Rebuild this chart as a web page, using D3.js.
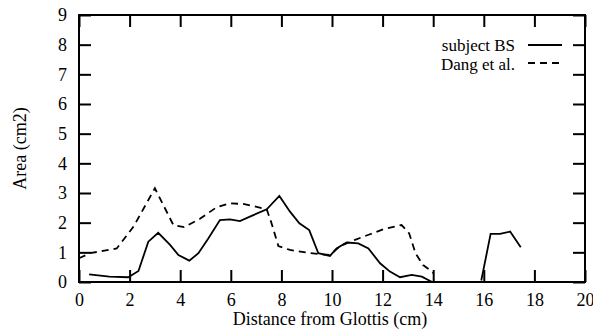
<!DOCTYPE html>
<html><head><meta charset="utf-8">
<script src="https://cdn.jsdelivr.net/npm/d3@7"></script>
<style>body{margin:0;background:#fff}svg{display:block}</style>
</head><body><svg id="c" width="593" height="330"></svg>
<script>
// Data
const bsDist = [0.4,1.2,1.95,2.35,2.74,3.13,3.6,3.93,4.36,4.72,5.11,5.57,5.97,6.36,6.8,7.42,7.92,8.34,8.71,9.1,9.46,9.92,10.18,10.58,11.04,11.44,11.9,12.29,12.69,13.15,13.55,13.94,null,15.9,16.27,16.64,17.04,17.46];
const bsArea = [0.26,0.18,0.16,0.37,1.36,1.66,1.25,0.91,0.72,0.97,1.47,2.09,2.11,2.05,2.22,2.45,2.90,2.37,1.98,1.75,0.97,0.88,1.13,1.33,1.30,1.13,0.63,0.35,0.16,0.24,0.18,0.01,null,0.05,1.62,1.62,1.70,1.17];
const dangDist = [0,0.43,1.49,2.15,3.0,3.73,4.15,4.78,5.44,5.97,6.49,6.95,7.42,7.61,7.88,8.34,9.0,9.53,9.92,10.32,10.91,11.5,12.03,12.75,13.05,13.3,13.6,13.8,14.0];
const dangArea = [0.8,0.97,1.13,1.86,3.16,1.92,1.85,2.13,2.52,2.65,2.63,2.55,2.45,1.98,1.21,1.08,0.99,0.94,0.91,1.21,1.42,1.61,1.78,1.92,1.64,0.97,0.57,0.45,0.3];
const xTicks = [0,2,4,6,8,10,12,14,16,18,20];
const yTicks = [0,1,2,3,4,5,6,7,8,9];
const seriesNames = ["subject BS","Dang et al."];

const FONT = "'Liberation Serif', 'Times New Roman', Times, 'DejaVu Serif', serif";
const svg = d3.select("#c").style("font-family", FONT);
const L=79,R=585,T=15,B=282;
const x = d3.scaleLinear().domain([0,20]).range([L,R]);
const y = d3.scaleLinear().domain([0,9]).range([B,T]);
const fs = 18, tl = 12, lw = 1.8;

function styleAxis(g){
  g.attr("font-family", null).style("font-family", FONT);
  g.select(".domain").remove();
  g.selectAll(".tick line").attr("stroke","#000").attr("stroke-width",2);
  g.selectAll(".tick text").attr("font-size",fs).attr("fill","#000").style("font-family", FONT);
}
svg.append("g").attr("transform",`translate(0,${B})`)
  .call(d3.axisBottom(x).tickValues(xTicks).tickSizeInner(-tl).tickSizeOuter(0).tickPadding(11))
  .call(styleAxis);
svg.append("g").attr("transform",`translate(0,${T})`)
  .call(d3.axisTop(x).tickValues(xTicks).tickSizeInner(-tl).tickSizeOuter(0).tickFormat(""))
  .call(styleAxis);
svg.append("g").attr("transform",`translate(${L},0)`)
  .call(d3.axisLeft(y).tickValues(yTicks).tickSizeInner(-tl).tickSizeOuter(0).tickPadding(12))
  .call(styleAxis);
svg.append("g").attr("transform",`translate(${R},0)`)
  .call(d3.axisRight(y).tickValues(yTicks).tickSizeInner(-tl).tickSizeOuter(0).tickFormat(""))
  .call(styleAxis);

svg.append("rect").attr("x",L).attr("y",T).attr("width",R-L).attr("height",B-T)
  .attr("fill","none").attr("stroke","#000").attr("stroke-width",2);

const line = d3.line().defined(d=>d[0]!=null && d[1]!=null).x(d=>x(d[0])).y(d=>y(d[1]));
svg.append("path").datum(bsDist.map((d,i)=>[d,bsArea[i]]))
  .attr("d",line).attr("fill","none").attr("stroke","#000").attr("stroke-width",lw);
svg.append("path").datum(dangDist.map((d,i)=>[d,dangArea[i]]))
  .attr("d",line).attr("fill","none").attr("stroke","#000").attr("stroke-width",lw).attr("stroke-dasharray","7,5");

// legend
[[51,45,null],[70,63,"7,5"]].forEach((p,i)=>{
  svg.append("text").attr("x",515).attr("y",p[0]).attr("text-anchor","end").attr("font-size",17).text(seriesNames[i]);
  const l = svg.append("line").attr("x1",528).attr("x2",562).attr("y1",p[1]).attr("y2",p[1]).attr("stroke","#000").attr("stroke-width",lw);
  if(p[2]) l.attr("stroke-dasharray",p[2]);
});

svg.append("text").attr("x",330).attr("y",325).attr("text-anchor","middle").attr("font-size",fs).text("Distance from Glottis (cm)");
svg.append("text").attr("transform",`translate(26,${(T+B)/2}) rotate(-90)`).attr("text-anchor","middle").attr("font-size",fs).text("Area (cm2)");
</script></body></html>
